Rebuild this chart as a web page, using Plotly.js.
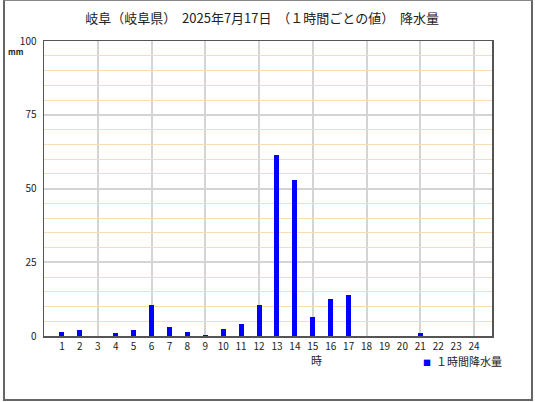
<!DOCTYPE html>
<html>
<head>
<meta charset="utf-8">
<script src="https://cdn.plot.ly/plotly-3.0.1.min.js"></script>
<style>
html,body{margin:0;padding:0;background:#fff;}
#wrap{position:relative;width:535px;height:402px;}
#chart{width:535px;height:402px;}
#frame{position:absolute;left:3px;top:0px;width:526px;height:398px;border:2px solid #666;border-top:1px solid #888;pointer-events:none;}
#chart .gridlayer path, #chart .minor-gridlayer path, #chart .shapelayer path {shape-rendering:crispEdges;}
</style>
</head>
<body>
<div id="wrap"><div id="chart"></div><div id="frame"></div></div>
<script>
const hours = [1,2,3,4,5,6,7,8,9,10,11,12,13,14,15,16,17,18,19,20,21,22,23,24];
const rainfall = [1.5,2.0,0,1.0,2.0,10.5,3.0,1.5,0.5,2.5,4.0,10.5,61.5,53.0,6.5,12.5,14.0,0,0,0,1.0,0,0,0];
const gridHours = [3,6,9,12,15,18,21,24];
const seriesName = '１時間降水量';
const titleText = '岐阜（岐阜県）  2025年7月17日  （１時間ごとの値）  降水量';
const font = 'Noto Sans CJK JP, DejaVu Sans, sans-serif';

const traces = [
  {type:'bar', x:hours, y:rainfall, width:0.28, marker:{color:'#0000ff'}, name:seriesName, showlegend:false, hoverinfo:'x+y'}
];

const gridShapes = gridHours.map(h => ({
  type:'line', xref:'x', yref:'paper', x0:h, x1:h, y0:0, y1:1, layer:'below',
  line:{color:'#d4d4d4', width:2}
}));

const layout = {
  width:535, height:402,
  margin:{l:44, r:43, t:41, b:66},
  paper_bgcolor:'#fff', plot_bgcolor:'#fff',
  font:{family:font, size:10, color:'#222'},
  title:{text:titleText, x:0.49, xanchor:'center', y:0.955, yanchor:'middle', font:{size:13, color:'#222', family:font}},
  showlegend:false,
  xaxis:{range:[0,25], tickvals:hours, ticktext:hours.map(String), showgrid:false, zeroline:false,
         showline:true, mirror:true, linecolor:'#555', linewidth:1.5, ticks:'', fixedrange:true,
         tickfont:{size:10}, automargin:false},
  yaxis:{range:[0,100], dtick:25, showgrid:true, gridcolor:'#d4d4d4', gridwidth:2, zeroline:false,
         showline:true, mirror:true, linecolor:'#555', linewidth:1.5, ticks:'', ticklabelstandoff:4,
         tickfont:{size:10}, automargin:false,
         minor:{dtick:5, showgrid:true, gridcolor:'#f7dcb4', gridwidth:1}},
  shapes:gridShapes,
  annotations:[
    {text:'時', xref:'paper', yref:'paper', x:(316-44)/448, y:-0.08, xanchor:'center', yanchor:'middle', showarrow:false, font:{size:11}},
    {text:'<b>mm</b>', xref:'paper', yref:'paper', x:(6-44)/448, y:(336-51)/295, xanchor:'left', yanchor:'middle', showarrow:false, font:{size:8}},
    {text:'<span style="color:#0000ff;font-size:8px">■</span>  ' + seriesName, xref:'paper', yref:'paper', x:(421-44)/448, y:(336-361)/295, xanchor:'left', yanchor:'middle', showarrow:false, font:{size:11}}
  ],
  bargap:0
};
Plotly.newPlot('chart', traces, layout, {displayModeBar:false, staticPlot:true});
</script>
</body>
</html>
